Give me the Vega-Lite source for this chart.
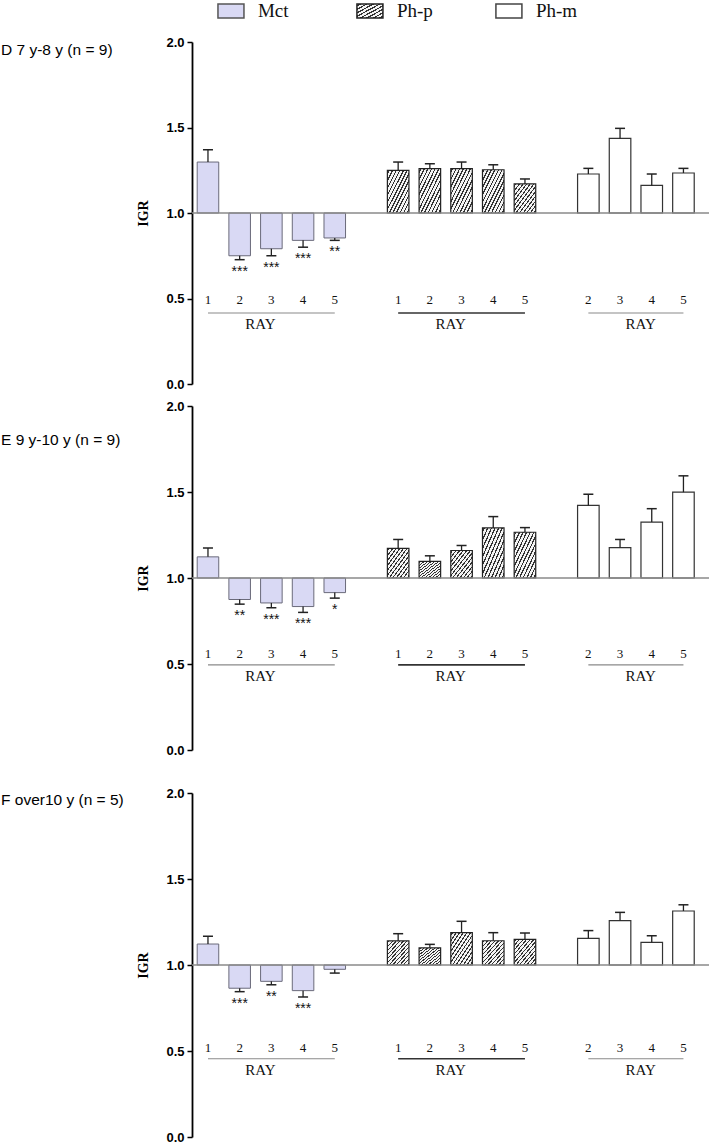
{
  "$schema": "https://vega.github.io/schema/vega-lite/v6.json",
  "padding": {"left": 1, "top": 0, "right": 0, "bottom": 0},
  "background": "white",
  "config": {
    "view": {"stroke": null},
    "font": "Liberation Sans",
    "axisY": {"domainColor": "#000", "domainWidth": 1.8, "tickColor": "#000", "tickWidth": 1.5, "tickSize": 5, "labelFont": "Liberation Sans", "labelFontWeight": "bold", "labelFontSize": 13, "labelColor": "#000", "labelPadding": 3, "titleFont": "Liberation Serif", "titleFontWeight": "bold", "titleFontSize": 14, "titleColor": "#000", "titlePadding": 15, "grid": false}
  },
  "datasets": {
    "legend": [{"group": "Mct"}, {"group": "Ph-p"}, {"group": "Ph-m"}],
    "groups": [
      {"group": "Mct", "first": "Mct 1", "last": "Mct 5", "mid": "Mct 3"},
      {"group": "Ph-p", "first": "Ph-p 1", "last": "Ph-p 5", "mid": "Ph-p 3"},
      {"group": "Ph-m", "first": "Ph-m 2", "last": "Ph-m 5", "mid": "Ph-m 4"}
    ],
    "bars": [
      {"panel": "D", "group": "Mct", "ray": 1, "key": "Mct 1", "igr": 1.298, "bar_end": 1.37, "sig": ""},
      {"panel": "D", "group": "Mct", "ray": 2, "key": "Mct 2", "igr": 0.75, "bar_end": 0.727, "sig": "***"},
      {"panel": "D", "group": "Mct", "ray": 3, "key": "Mct 3", "igr": 0.791, "bar_end": 0.75, "sig": "***"},
      {"panel": "D", "group": "Mct", "ray": 4, "key": "Mct 4", "igr": 0.84, "bar_end": 0.8, "sig": "***"},
      {"panel": "D", "group": "Mct", "ray": 5, "key": "Mct 5", "igr": 0.854, "bar_end": 0.84, "sig": "**"},
      {"panel": "D", "group": "Ph-p", "ray": 1, "key": "Ph-p 1", "igr": 1.249, "bar_end": 1.298, "sig": ""},
      {"panel": "D", "group": "Ph-p", "ray": 2, "key": "Ph-p 2", "igr": 1.259, "bar_end": 1.288, "sig": ""},
      {"panel": "D", "group": "Ph-p", "ray": 3, "key": "Ph-p 3", "igr": 1.259, "bar_end": 1.298, "sig": ""},
      {"panel": "D", "group": "Ph-p", "ray": 4, "key": "Ph-p 4", "igr": 1.253, "bar_end": 1.282, "sig": ""},
      {"panel": "D", "group": "Ph-p", "ray": 5, "key": "Ph-p 5", "igr": 1.17, "bar_end": 1.199, "sig": ""},
      {"panel": "D", "group": "Ph-m", "ray": 2, "key": "Ph-m 2", "igr": 1.228, "bar_end": 1.261, "sig": ""},
      {"panel": "D", "group": "Ph-m", "ray": 3, "key": "Ph-m 3", "igr": 1.436, "bar_end": 1.495, "sig": ""},
      {"panel": "D", "group": "Ph-m", "ray": 4, "key": "Ph-m 4", "igr": 1.161, "bar_end": 1.228, "sig": ""},
      {"panel": "D", "group": "Ph-m", "ray": 5, "key": "Ph-m 5", "igr": 1.234, "bar_end": 1.261, "sig": ""},
      {"panel": "E", "group": "Mct", "ray": 1, "key": "Mct 1", "igr": 1.123, "bar_end": 1.175, "sig": ""},
      {"panel": "E", "group": "Mct", "ray": 2, "key": "Mct 2", "igr": 0.875, "bar_end": 0.848, "sig": "**"},
      {"panel": "E", "group": "Mct", "ray": 3, "key": "Mct 3", "igr": 0.855, "bar_end": 0.827, "sig": "***"},
      {"panel": "E", "group": "Mct", "ray": 4, "key": "Mct 4", "igr": 0.834, "bar_end": 0.8, "sig": "***"},
      {"panel": "E", "group": "Mct", "ray": 5, "key": "Mct 5", "igr": 0.915, "bar_end": 0.883, "sig": "*"},
      {"panel": "E", "group": "Ph-p", "ray": 1, "key": "Ph-p 1", "igr": 1.172, "bar_end": 1.224, "sig": ""},
      {"panel": "E", "group": "Ph-p", "ray": 2, "key": "Ph-p 2", "igr": 1.097, "bar_end": 1.129, "sig": ""},
      {"panel": "E", "group": "Ph-p", "ray": 3, "key": "Ph-p 3", "igr": 1.16, "bar_end": 1.189, "sig": ""},
      {"panel": "E", "group": "Ph-p", "ray": 4, "key": "Ph-p 4", "igr": 1.291, "bar_end": 1.357, "sig": ""},
      {"panel": "E", "group": "Ph-p", "ray": 5, "key": "Ph-p 5", "igr": 1.266, "bar_end": 1.293, "sig": ""},
      {"panel": "E", "group": "Ph-m", "ray": 2, "key": "Ph-m 2", "igr": 1.422, "bar_end": 1.487, "sig": ""},
      {"panel": "E", "group": "Ph-m", "ray": 3, "key": "Ph-m 3", "igr": 1.177, "bar_end": 1.224, "sig": ""},
      {"panel": "E", "group": "Ph-m", "ray": 4, "key": "Ph-m 4", "igr": 1.325, "bar_end": 1.403, "sig": ""},
      {"panel": "E", "group": "Ph-m", "ray": 5, "key": "Ph-m 5", "igr": 1.499, "bar_end": 1.594, "sig": ""},
      {"panel": "F", "group": "Mct", "ray": 1, "key": "Mct 1", "igr": 1.122, "bar_end": 1.167, "sig": ""},
      {"panel": "F", "group": "Mct", "ray": 2, "key": "Mct 2", "igr": 0.865, "bar_end": 0.845, "sig": "***"},
      {"panel": "F", "group": "Mct", "ray": 3, "key": "Mct 3", "igr": 0.905, "bar_end": 0.885, "sig": "**"},
      {"panel": "F", "group": "Mct", "ray": 4, "key": "Mct 4", "igr": 0.851, "bar_end": 0.814, "sig": "***"},
      {"panel": "F", "group": "Mct", "ray": 5, "key": "Mct 5", "igr": 0.975, "bar_end": 0.953, "sig": ""},
      {"panel": "F", "group": "Ph-p", "ray": 1, "key": "Ph-p 1", "igr": 1.14, "bar_end": 1.182, "sig": ""},
      {"panel": "F", "group": "Ph-p", "ray": 2, "key": "Ph-p 2", "igr": 1.1, "bar_end": 1.12, "sig": ""},
      {"panel": "F", "group": "Ph-p", "ray": 3, "key": "Ph-p 3", "igr": 1.188, "bar_end": 1.254, "sig": ""},
      {"panel": "F", "group": "Ph-p", "ray": 4, "key": "Ph-p 4", "igr": 1.141, "bar_end": 1.188, "sig": ""},
      {"panel": "F", "group": "Ph-p", "ray": 5, "key": "Ph-p 5", "igr": 1.149, "bar_end": 1.186, "sig": ""},
      {"panel": "F", "group": "Ph-m", "ray": 2, "key": "Ph-m 2", "igr": 1.155, "bar_end": 1.2, "sig": ""},
      {"panel": "F", "group": "Ph-m", "ray": 3, "key": "Ph-m 3", "igr": 1.258, "bar_end": 1.306, "sig": ""},
      {"panel": "F", "group": "Ph-m", "ray": 4, "key": "Ph-m 4", "igr": 1.132, "bar_end": 1.17, "sig": ""},
      {"panel": "F", "group": "Ph-m", "ray": 5, "key": "Ph-m 5", "igr": 1.314, "bar_end": 1.35, "sig": ""}
    ]
  },
  "spacing": 30,
  "vconcat": [
    {
      "spacing": 14,
      "vconcat": [
        {
          "width": 517,
          "height": 14,
          "data": {"name": "legend"},
          "encoding": {"x": {"field": "group", "type": "nominal", "scale": {"type": "point", "domain": ["Mct", "Ph-p", "Ph-m"], "padding": 0.86, "align": 0.163}, "axis": null}},
          "layer": [
            {"transform": [{"filter": "datum.group === 'Mct'"}], "mark": {"type": "point", "shape": "M-1,-0.54L1,-0.54L1,0.54L-1,0.54Z", "size": 676, "filled": true, "fill": "#d9d9f4", "stroke": "#555", "strokeWidth": 1.5, "opacity": 1}},
            {"transform": [{"filter": "datum.group === 'Ph-p'"}], "mark": {"type": "point", "shape": "M-1,-0.54L1,-0.54L1,0.54L-1,0.54Z", "size": 676, "filled": true, "stroke": "#222", "strokeWidth": 1.5, "opacity": 1,
              "fill": {"gradient": "linear", "x1": 0, "y1": 0, "x2": 1, "y2": 1, "stops": [
                {"offset": 0, "color": "#f4f4f4"},
                {"offset": 0.04, "color": "#f4f4f4"}, {"offset": 0.04, "color": "#333"}, {"offset": 0.09, "color": "#333"}, {"offset": 0.09, "color": "#f4f4f4"},
                {"offset": 0.165, "color": "#f4f4f4"}, {"offset": 0.165, "color": "#333"}, {"offset": 0.215, "color": "#333"}, {"offset": 0.215, "color": "#f4f4f4"},
                {"offset": 0.29, "color": "#f4f4f4"}, {"offset": 0.29, "color": "#333"}, {"offset": 0.34, "color": "#333"}, {"offset": 0.34, "color": "#f4f4f4"},
                {"offset": 0.415, "color": "#f4f4f4"}, {"offset": 0.415, "color": "#333"}, {"offset": 0.465, "color": "#333"}, {"offset": 0.465, "color": "#f4f4f4"},
                {"offset": 0.54, "color": "#f4f4f4"}, {"offset": 0.54, "color": "#333"}, {"offset": 0.59, "color": "#333"}, {"offset": 0.59, "color": "#f4f4f4"},
                {"offset": 0.665, "color": "#f4f4f4"}, {"offset": 0.665, "color": "#333"}, {"offset": 0.715, "color": "#333"}, {"offset": 0.715, "color": "#f4f4f4"},
                {"offset": 0.79, "color": "#f4f4f4"}, {"offset": 0.79, "color": "#333"}, {"offset": 0.84, "color": "#333"}, {"offset": 0.84, "color": "#f4f4f4"},
                {"offset": 0.915, "color": "#f4f4f4"}, {"offset": 0.915, "color": "#333"}, {"offset": 0.965, "color": "#333"}, {"offset": 0.965, "color": "#f4f4f4"},
                {"offset": 1, "color": "#f4f4f4"}]}}},
            {"transform": [{"filter": "datum.group === 'Ph-m'"}], "mark": {"type": "point", "shape": "M-1,-0.54L1,-0.54L1,0.54L-1,0.54Z", "size": 676, "filled": true, "fill": "#fff", "stroke": "#444", "strokeWidth": 1.5, "opacity": 1}},
            {"mark": {"type": "text", "align": "left", "baseline": "middle", "dx": 27, "font": "Liberation Serif", "fontSize": 19, "color": "#111"}, "encoding": {"text": {"field": "group"}}}
          ]
        },
        {
          "spacing": 9,
          "vconcat": [
            {
              "width": 517,
              "height": 342,
              "title": {"text": "D 7 y-8 y (n = 9)", "anchor": "start", "frame": "group", "orient": "top", "dx": -191, "dy": 22, "offset": 0, "baseline": "top", "fontSize": 15.5, "fontWeight": "normal", "font": "Liberation Sans", "color": "#000"},
              "data": {"name": "bars"},
              "layer": [
                {"transform": [{"filter": "datum.panel === 'D' && datum.group === 'Mct'"}], "mark": {"type": "bar", "fill": "#d9d9f4", "stroke": "#6a6a7a", "strokeWidth": 1},
                 "encoding": {"x": {"field": "key", "type": "ordinal", "scale": {"domain": ["Mct 1", "Mct 2", "Mct 3", "Mct 4", "Mct 5", "gap1", "Ph-p 1", "Ph-p 2", "Ph-p 3", "Ph-p 4", "Ph-p 5", "gap2", "Ph-m 2", "Ph-m 3", "Ph-m 4", "Ph-m 5"], "paddingInner": 0.32, "paddingOuter": 0.315, "align": 0.26}, "axis": null},
                   "y": {"field": "igr", "type": "quantitative", "scale": {"domain": [0, 2]}, "title": "IGR", "axis": {"values": [0, 0.5, 1, 1.5, 2], "format": ".1f"}}, "y2": {"datum": 1}}},
                {"transform": [{"filter": "datum.panel === 'D' && datum.group === 'Ph-p'"}], "mark": {"type": "bar", "stroke": "#222", "strokeWidth": 1.2,
                  "fill": {"gradient": "linear", "x1": 0, "y1": 0, "x2": 1, "y2": 1, "stops": [
                    {"offset": 0, "color": "#f4f4f4"},
                    {"offset": 0.025, "color": "#f4f4f4"}, {"offset": 0.025, "color": "#333"}, {"offset": 0.055, "color": "#333"}, {"offset": 0.055, "color": "#f4f4f4"},
                    {"offset": 0.108, "color": "#f4f4f4"}, {"offset": 0.108, "color": "#333"}, {"offset": 0.138, "color": "#333"}, {"offset": 0.138, "color": "#f4f4f4"},
                    {"offset": 0.192, "color": "#f4f4f4"}, {"offset": 0.192, "color": "#333"}, {"offset": 0.222, "color": "#333"}, {"offset": 0.222, "color": "#f4f4f4"},
                    {"offset": 0.275, "color": "#f4f4f4"}, {"offset": 0.275, "color": "#333"}, {"offset": 0.305, "color": "#333"}, {"offset": 0.305, "color": "#f4f4f4"},
                    {"offset": 0.358, "color": "#f4f4f4"}, {"offset": 0.358, "color": "#333"}, {"offset": 0.388, "color": "#333"}, {"offset": 0.388, "color": "#f4f4f4"},
                    {"offset": 0.442, "color": "#f4f4f4"}, {"offset": 0.442, "color": "#333"}, {"offset": 0.472, "color": "#333"}, {"offset": 0.472, "color": "#f4f4f4"},
                    {"offset": 0.525, "color": "#f4f4f4"}, {"offset": 0.525, "color": "#333"}, {"offset": 0.555, "color": "#333"}, {"offset": 0.555, "color": "#f4f4f4"},
                    {"offset": 0.608, "color": "#f4f4f4"}, {"offset": 0.608, "color": "#333"}, {"offset": 0.638, "color": "#333"}, {"offset": 0.638, "color": "#f4f4f4"},
                    {"offset": 0.692, "color": "#f4f4f4"}, {"offset": 0.692, "color": "#333"}, {"offset": 0.722, "color": "#333"}, {"offset": 0.722, "color": "#f4f4f4"},
                    {"offset": 0.775, "color": "#f4f4f4"}, {"offset": 0.775, "color": "#333"}, {"offset": 0.805, "color": "#333"}, {"offset": 0.805, "color": "#f4f4f4"},
                    {"offset": 0.858, "color": "#f4f4f4"}, {"offset": 0.858, "color": "#333"}, {"offset": 0.888, "color": "#333"}, {"offset": 0.888, "color": "#f4f4f4"},
                    {"offset": 0.942, "color": "#f4f4f4"}, {"offset": 0.942, "color": "#333"}, {"offset": 0.972, "color": "#333"}, {"offset": 0.972, "color": "#f4f4f4"},
                    {"offset": 1, "color": "#f4f4f4"}]}},
                 "encoding": {"x": {"field": "key", "type": "ordinal", "scale": {"domain": ["Mct 1", "Mct 2", "Mct 3", "Mct 4", "Mct 5", "gap1", "Ph-p 1", "Ph-p 2", "Ph-p 3", "Ph-p 4", "Ph-p 5", "gap2", "Ph-m 2", "Ph-m 3", "Ph-m 4", "Ph-m 5"], "paddingInner": 0.32, "paddingOuter": 0.315, "align": 0.26}, "axis": null},
                   "y": {"field": "igr", "type": "quantitative", "scale": {"domain": [0, 2]}, "title": "IGR"}, "y2": {"datum": 1}}},
                {"transform": [{"filter": "datum.panel === 'D' && datum.group === 'Ph-m'"}], "mark": {"type": "bar", "fill": "#fff", "stroke": "#333", "strokeWidth": 1.2},
                 "encoding": {"x": {"field": "key", "type": "ordinal", "scale": {"domain": ["Mct 1", "Mct 2", "Mct 3", "Mct 4", "Mct 5", "gap1", "Ph-p 1", "Ph-p 2", "Ph-p 3", "Ph-p 4", "Ph-p 5", "gap2", "Ph-m 2", "Ph-m 3", "Ph-m 4", "Ph-m 5"], "paddingInner": 0.32, "paddingOuter": 0.315, "align": 0.26}, "axis": null},
                   "y": {"field": "igr", "type": "quantitative", "scale": {"domain": [0, 2]}, "title": "IGR"}, "y2": {"datum": 1}}},
                {"data": {"values": [{"baseline": 1}]}, "mark": {"type": "rule", "color": "#8a8a8a", "strokeWidth": 1.3},
                 "encoding": {"y": {"field": "baseline", "type": "quantitative", "scale": {"domain": [0, 2]}, "title": "IGR"}}},
                {"transform": [{"filter": "datum.panel === 'D'"}], "mark": {"type": "rule", "color": "#222", "strokeWidth": 1.3},
                 "encoding": {"x": {"field": "key", "type": "ordinal", "scale": {"domain": ["Mct 1", "Mct 2", "Mct 3", "Mct 4", "Mct 5", "gap1", "Ph-p 1", "Ph-p 2", "Ph-p 3", "Ph-p 4", "Ph-p 5", "gap2", "Ph-m 2", "Ph-m 3", "Ph-m 4", "Ph-m 5"], "paddingInner": 0.32, "paddingOuter": 0.315, "align": 0.26}, "axis": null},
                   "y": {"field": "igr", "type": "quantitative", "scale": {"domain": [0, 2]}, "title": "IGR"}, "y2": {"field": "bar_end"}}},
                {"transform": [{"filter": "datum.panel === 'D'"}], "mark": {"type": "tick", "color": "#222", "size": 10, "thickness": 1.5, "opacity": 1},
                 "encoding": {"x": {"field": "key", "type": "ordinal", "scale": {"domain": ["Mct 1", "Mct 2", "Mct 3", "Mct 4", "Mct 5", "gap1", "Ph-p 1", "Ph-p 2", "Ph-p 3", "Ph-p 4", "Ph-p 5", "gap2", "Ph-m 2", "Ph-m 3", "Ph-m 4", "Ph-m 5"], "paddingInner": 0.32, "paddingOuter": 0.315, "align": 0.26}, "axis": null},
                   "y": {"field": "bar_end", "type": "quantitative", "scale": {"domain": [0, 2]}, "title": "IGR"}}},
                {"transform": [{"filter": "datum.panel === 'D'"}], "mark": {"type": "text", "baseline": "top", "dy": 5, "fontSize": 14, "font": "Liberation Sans", "color": "#111"},
                 "encoding": {"x": {"field": "key", "type": "ordinal", "scale": {"domain": ["Mct 1", "Mct 2", "Mct 3", "Mct 4", "Mct 5", "gap1", "Ph-p 1", "Ph-p 2", "Ph-p 3", "Ph-p 4", "Ph-p 5", "gap2", "Ph-m 2", "Ph-m 3", "Ph-m 4", "Ph-m 5"], "paddingInner": 0.32, "paddingOuter": 0.315, "align": 0.26}, "axis": null},
                   "y": {"field": "bar_end", "type": "quantitative", "scale": {"domain": [0, 2]}, "title": "IGR"}, "text": {"field": "sig"}}},
                {"transform": [{"filter": "datum.panel === 'D'"}], "mark": {"type": "text", "baseline": "middle", "fontSize": 13, "font": "Liberation Serif", "color": "#111"},
                 "encoding": {"x": {"field": "key", "type": "ordinal", "scale": {"domain": ["Mct 1", "Mct 2", "Mct 3", "Mct 4", "Mct 5", "gap1", "Ph-p 1", "Ph-p 2", "Ph-p 3", "Ph-p 4", "Ph-p 5", "gap2", "Ph-m 2", "Ph-m 3", "Ph-m 4", "Ph-m 5"], "paddingInner": 0.32, "paddingOuter": 0.315, "align": 0.26}, "axis": null},
                   "y": {"datum": 0.49, "type": "quantitative", "scale": {"domain": [0, 2]}}, "text": {"field": "ray", "type": "nominal"}}},
                {"data": {"name": "groups"}, "mark": {"type": "rule"},
                 "encoding": {"x": {"field": "first", "type": "ordinal", "scale": {"domain": ["Mct 1", "Mct 2", "Mct 3", "Mct 4", "Mct 5", "gap1", "Ph-p 1", "Ph-p 2", "Ph-p 3", "Ph-p 4", "Ph-p 5", "gap2", "Ph-m 2", "Ph-m 3", "Ph-m 4", "Ph-m 5"], "paddingInner": 0.32, "paddingOuter": 0.315, "align": 0.26}, "axis": null},
                   "x2": {"field": "last"},
                   "y": {"datum": 0.415, "type": "quantitative", "scale": {"domain": [0, 2]}},
                   "color": {"condition": {"test": "datum.group === 'Ph-p'", "value": "#333"}, "value": "#8a8a8a"},
                   "strokeWidth": {"condition": {"test": "datum.group === 'Ph-p'", "value": 1.6}, "value": 1.1}}},
                {"data": {"name": "groups"}, "mark": {"type": "text", "baseline": "middle", "dx": -11, "fontSize": 15, "font": "Liberation Serif", "color": "#111", "text": "RAY"},
                 "encoding": {"x": {"field": "mid", "type": "ordinal", "scale": {"domain": ["Mct 1", "Mct 2", "Mct 3", "Mct 4", "Mct 5", "gap1", "Ph-p 1", "Ph-p 2", "Ph-p 3", "Ph-p 4", "Ph-p 5", "gap2", "Ph-m 2", "Ph-m 3", "Ph-m 4", "Ph-m 5"], "paddingInner": 0.32, "paddingOuter": 0.315, "align": 0.26}, "axis": null},
                   "y": {"datum": 0.35, "type": "quantitative", "scale": {"domain": [0, 2]}}}}
              ]
            },
            {
              "width": 517,
              "height": 344,
              "title": {"text": "E 9 y-10 y (n = 9)", "anchor": "start", "frame": "group", "orient": "top", "dx": -191, "dy": 48, "offset": 0, "baseline": "top", "fontSize": 15.5, "fontWeight": "normal", "font": "Liberation Sans", "color": "#000"},
              "data": {"name": "bars"},
              "layer": [
                {"transform": [{"filter": "datum.panel === 'E' && datum.group === 'Mct'"}], "mark": {"type": "bar", "fill": "#d9d9f4", "stroke": "#6a6a7a", "strokeWidth": 1},
                 "encoding": {"x": {"field": "key", "type": "ordinal", "scale": {"domain": ["Mct 1", "Mct 2", "Mct 3", "Mct 4", "Mct 5", "gap1", "Ph-p 1", "Ph-p 2", "Ph-p 3", "Ph-p 4", "Ph-p 5", "gap2", "Ph-m 2", "Ph-m 3", "Ph-m 4", "Ph-m 5"], "paddingInner": 0.32, "paddingOuter": 0.315, "align": 0.26}, "axis": null},
                   "y": {"field": "igr", "type": "quantitative", "scale": {"domain": [0, 2]}, "title": "IGR", "axis": {"values": [0, 0.5, 1, 1.5, 2], "format": ".1f"}}, "y2": {"datum": 1}}},
                {"transform": [{"filter": "datum.panel === 'E' && datum.group === 'Ph-p'"}], "mark": {"type": "bar", "stroke": "#222", "strokeWidth": 1.2,
                  "fill": {"gradient": "linear", "x1": 0, "y1": 0, "x2": 1, "y2": 1, "stops": [
                    {"offset": 0, "color": "#f4f4f4"},
                    {"offset": 0.025, "color": "#f4f4f4"}, {"offset": 0.025, "color": "#333"}, {"offset": 0.055, "color": "#333"}, {"offset": 0.055, "color": "#f4f4f4"},
                    {"offset": 0.108, "color": "#f4f4f4"}, {"offset": 0.108, "color": "#333"}, {"offset": 0.138, "color": "#333"}, {"offset": 0.138, "color": "#f4f4f4"},
                    {"offset": 0.192, "color": "#f4f4f4"}, {"offset": 0.192, "color": "#333"}, {"offset": 0.222, "color": "#333"}, {"offset": 0.222, "color": "#f4f4f4"},
                    {"offset": 0.275, "color": "#f4f4f4"}, {"offset": 0.275, "color": "#333"}, {"offset": 0.305, "color": "#333"}, {"offset": 0.305, "color": "#f4f4f4"},
                    {"offset": 0.358, "color": "#f4f4f4"}, {"offset": 0.358, "color": "#333"}, {"offset": 0.388, "color": "#333"}, {"offset": 0.388, "color": "#f4f4f4"},
                    {"offset": 0.442, "color": "#f4f4f4"}, {"offset": 0.442, "color": "#333"}, {"offset": 0.472, "color": "#333"}, {"offset": 0.472, "color": "#f4f4f4"},
                    {"offset": 0.525, "color": "#f4f4f4"}, {"offset": 0.525, "color": "#333"}, {"offset": 0.555, "color": "#333"}, {"offset": 0.555, "color": "#f4f4f4"},
                    {"offset": 0.608, "color": "#f4f4f4"}, {"offset": 0.608, "color": "#333"}, {"offset": 0.638, "color": "#333"}, {"offset": 0.638, "color": "#f4f4f4"},
                    {"offset": 0.692, "color": "#f4f4f4"}, {"offset": 0.692, "color": "#333"}, {"offset": 0.722, "color": "#333"}, {"offset": 0.722, "color": "#f4f4f4"},
                    {"offset": 0.775, "color": "#f4f4f4"}, {"offset": 0.775, "color": "#333"}, {"offset": 0.805, "color": "#333"}, {"offset": 0.805, "color": "#f4f4f4"},
                    {"offset": 0.858, "color": "#f4f4f4"}, {"offset": 0.858, "color": "#333"}, {"offset": 0.888, "color": "#333"}, {"offset": 0.888, "color": "#f4f4f4"},
                    {"offset": 0.942, "color": "#f4f4f4"}, {"offset": 0.942, "color": "#333"}, {"offset": 0.972, "color": "#333"}, {"offset": 0.972, "color": "#f4f4f4"},
                    {"offset": 1, "color": "#f4f4f4"}]}},
                 "encoding": {"x": {"field": "key", "type": "ordinal", "scale": {"domain": ["Mct 1", "Mct 2", "Mct 3", "Mct 4", "Mct 5", "gap1", "Ph-p 1", "Ph-p 2", "Ph-p 3", "Ph-p 4", "Ph-p 5", "gap2", "Ph-m 2", "Ph-m 3", "Ph-m 4", "Ph-m 5"], "paddingInner": 0.32, "paddingOuter": 0.315, "align": 0.26}, "axis": null},
                   "y": {"field": "igr", "type": "quantitative", "scale": {"domain": [0, 2]}, "title": "IGR"}, "y2": {"datum": 1}}},
                {"transform": [{"filter": "datum.panel === 'E' && datum.group === 'Ph-m'"}], "mark": {"type": "bar", "fill": "#fff", "stroke": "#333", "strokeWidth": 1.2},
                 "encoding": {"x": {"field": "key", "type": "ordinal", "scale": {"domain": ["Mct 1", "Mct 2", "Mct 3", "Mct 4", "Mct 5", "gap1", "Ph-p 1", "Ph-p 2", "Ph-p 3", "Ph-p 4", "Ph-p 5", "gap2", "Ph-m 2", "Ph-m 3", "Ph-m 4", "Ph-m 5"], "paddingInner": 0.32, "paddingOuter": 0.315, "align": 0.26}, "axis": null},
                   "y": {"field": "igr", "type": "quantitative", "scale": {"domain": [0, 2]}, "title": "IGR"}, "y2": {"datum": 1}}},
                {"data": {"values": [{"baseline": 1}]}, "mark": {"type": "rule", "color": "#8a8a8a", "strokeWidth": 1.3},
                 "encoding": {"y": {"field": "baseline", "type": "quantitative", "scale": {"domain": [0, 2]}, "title": "IGR"}}},
                {"transform": [{"filter": "datum.panel === 'E'"}], "mark": {"type": "rule", "color": "#222", "strokeWidth": 1.3},
                 "encoding": {"x": {"field": "key", "type": "ordinal", "scale": {"domain": ["Mct 1", "Mct 2", "Mct 3", "Mct 4", "Mct 5", "gap1", "Ph-p 1", "Ph-p 2", "Ph-p 3", "Ph-p 4", "Ph-p 5", "gap2", "Ph-m 2", "Ph-m 3", "Ph-m 4", "Ph-m 5"], "paddingInner": 0.32, "paddingOuter": 0.315, "align": 0.26}, "axis": null},
                   "y": {"field": "igr", "type": "quantitative", "scale": {"domain": [0, 2]}, "title": "IGR"}, "y2": {"field": "bar_end"}}},
                {"transform": [{"filter": "datum.panel === 'E'"}], "mark": {"type": "tick", "color": "#222", "size": 10, "thickness": 1.5, "opacity": 1},
                 "encoding": {"x": {"field": "key", "type": "ordinal", "scale": {"domain": ["Mct 1", "Mct 2", "Mct 3", "Mct 4", "Mct 5", "gap1", "Ph-p 1", "Ph-p 2", "Ph-p 3", "Ph-p 4", "Ph-p 5", "gap2", "Ph-m 2", "Ph-m 3", "Ph-m 4", "Ph-m 5"], "paddingInner": 0.32, "paddingOuter": 0.315, "align": 0.26}, "axis": null},
                   "y": {"field": "bar_end", "type": "quantitative", "scale": {"domain": [0, 2]}, "title": "IGR"}}},
                {"transform": [{"filter": "datum.panel === 'E'"}], "mark": {"type": "text", "baseline": "top", "dy": 5, "fontSize": 14, "font": "Liberation Sans", "color": "#111"},
                 "encoding": {"x": {"field": "key", "type": "ordinal", "scale": {"domain": ["Mct 1", "Mct 2", "Mct 3", "Mct 4", "Mct 5", "gap1", "Ph-p 1", "Ph-p 2", "Ph-p 3", "Ph-p 4", "Ph-p 5", "gap2", "Ph-m 2", "Ph-m 3", "Ph-m 4", "Ph-m 5"], "paddingInner": 0.32, "paddingOuter": 0.315, "align": 0.26}, "axis": null},
                   "y": {"field": "bar_end", "type": "quantitative", "scale": {"domain": [0, 2]}, "title": "IGR"}, "text": {"field": "sig"}}},
                {"transform": [{"filter": "datum.panel === 'E'"}], "mark": {"type": "text", "baseline": "middle", "fontSize": 13, "font": "Liberation Serif", "color": "#111"},
                 "encoding": {"x": {"field": "key", "type": "ordinal", "scale": {"domain": ["Mct 1", "Mct 2", "Mct 3", "Mct 4", "Mct 5", "gap1", "Ph-p 1", "Ph-p 2", "Ph-p 3", "Ph-p 4", "Ph-p 5", "gap2", "Ph-m 2", "Ph-m 3", "Ph-m 4", "Ph-m 5"], "paddingInner": 0.32, "paddingOuter": 0.315, "align": 0.26}, "axis": null},
                   "y": {"datum": 0.56, "type": "quantitative", "scale": {"domain": [0, 2]}}, "text": {"field": "ray", "type": "nominal"}}},
                {"data": {"name": "groups"}, "mark": {"type": "rule"},
                 "encoding": {"x": {"field": "first", "type": "ordinal", "scale": {"domain": ["Mct 1", "Mct 2", "Mct 3", "Mct 4", "Mct 5", "gap1", "Ph-p 1", "Ph-p 2", "Ph-p 3", "Ph-p 4", "Ph-p 5", "gap2", "Ph-m 2", "Ph-m 3", "Ph-m 4", "Ph-m 5"], "paddingInner": 0.32, "paddingOuter": 0.315, "align": 0.26}, "axis": null},
                   "x2": {"field": "last"},
                   "y": {"datum": 0.495, "type": "quantitative", "scale": {"domain": [0, 2]}},
                   "color": {"condition": {"test": "datum.group === 'Ph-p'", "value": "#333"}, "value": "#8a8a8a"},
                   "strokeWidth": {"condition": {"test": "datum.group === 'Ph-p'", "value": 1.6}, "value": 1.1}}},
                {"data": {"name": "groups"}, "mark": {"type": "text", "baseline": "middle", "dx": -11, "fontSize": 15, "font": "Liberation Serif", "color": "#111", "text": "RAY"},
                 "encoding": {"x": {"field": "mid", "type": "ordinal", "scale": {"domain": ["Mct 1", "Mct 2", "Mct 3", "Mct 4", "Mct 5", "gap1", "Ph-p 1", "Ph-p 2", "Ph-p 3", "Ph-p 4", "Ph-p 5", "gap2", "Ph-m 2", "Ph-m 3", "Ph-m 4", "Ph-m 5"], "paddingInner": 0.32, "paddingOuter": 0.315, "align": 0.26}, "axis": null},
                   "y": {"datum": 0.43, "type": "quantitative", "scale": {"domain": [0, 2]}}}}
              ]
            }
          ]
        }
      ]
    },
    {
      "width": 517,
      "height": 344,
      "title": {"text": "F over10 y (n = 5)", "anchor": "start", "frame": "group", "orient": "top", "dx": -191, "dy": 21, "offset": 0, "baseline": "top", "fontSize": 15.5, "fontWeight": "normal", "font": "Liberation Sans", "color": "#000"},
      "data": {"name": "bars"},
      "layer": [
        {"transform": [{"filter": "datum.panel === 'F' && datum.group === 'Mct'"}], "mark": {"type": "bar", "fill": "#d9d9f4", "stroke": "#6a6a7a", "strokeWidth": 1},
         "encoding": {"x": {"field": "key", "type": "ordinal", "scale": {"domain": ["Mct 1", "Mct 2", "Mct 3", "Mct 4", "Mct 5", "gap1", "Ph-p 1", "Ph-p 2", "Ph-p 3", "Ph-p 4", "Ph-p 5", "gap2", "Ph-m 2", "Ph-m 3", "Ph-m 4", "Ph-m 5"], "paddingInner": 0.32, "paddingOuter": 0.315, "align": 0.26}, "axis": null},
           "y": {"field": "igr", "type": "quantitative", "scale": {"domain": [0, 2]}, "title": "IGR", "axis": {"values": [0, 0.5, 1, 1.5, 2], "format": ".1f"}}, "y2": {"datum": 1}}},
        {"transform": [{"filter": "datum.panel === 'F' && datum.group === 'Ph-p'"}], "mark": {"type": "bar", "stroke": "#222", "strokeWidth": 1.2,
          "fill": {"gradient": "linear", "x1": 0, "y1": 0, "x2": 1, "y2": 1, "stops": [
            {"offset": 0, "color": "#f4f4f4"},
            {"offset": 0.025, "color": "#f4f4f4"}, {"offset": 0.025, "color": "#333"}, {"offset": 0.055, "color": "#333"}, {"offset": 0.055, "color": "#f4f4f4"},
            {"offset": 0.108, "color": "#f4f4f4"}, {"offset": 0.108, "color": "#333"}, {"offset": 0.138, "color": "#333"}, {"offset": 0.138, "color": "#f4f4f4"},
            {"offset": 0.192, "color": "#f4f4f4"}, {"offset": 0.192, "color": "#333"}, {"offset": 0.222, "color": "#333"}, {"offset": 0.222, "color": "#f4f4f4"},
            {"offset": 0.275, "color": "#f4f4f4"}, {"offset": 0.275, "color": "#333"}, {"offset": 0.305, "color": "#333"}, {"offset": 0.305, "color": "#f4f4f4"},
            {"offset": 0.358, "color": "#f4f4f4"}, {"offset": 0.358, "color": "#333"}, {"offset": 0.388, "color": "#333"}, {"offset": 0.388, "color": "#f4f4f4"},
            {"offset": 0.442, "color": "#f4f4f4"}, {"offset": 0.442, "color": "#333"}, {"offset": 0.472, "color": "#333"}, {"offset": 0.472, "color": "#f4f4f4"},
            {"offset": 0.525, "color": "#f4f4f4"}, {"offset": 0.525, "color": "#333"}, {"offset": 0.555, "color": "#333"}, {"offset": 0.555, "color": "#f4f4f4"},
            {"offset": 0.608, "color": "#f4f4f4"}, {"offset": 0.608, "color": "#333"}, {"offset": 0.638, "color": "#333"}, {"offset": 0.638, "color": "#f4f4f4"},
            {"offset": 0.692, "color": "#f4f4f4"}, {"offset": 0.692, "color": "#333"}, {"offset": 0.722, "color": "#333"}, {"offset": 0.722, "color": "#f4f4f4"},
            {"offset": 0.775, "color": "#f4f4f4"}, {"offset": 0.775, "color": "#333"}, {"offset": 0.805, "color": "#333"}, {"offset": 0.805, "color": "#f4f4f4"},
            {"offset": 0.858, "color": "#f4f4f4"}, {"offset": 0.858, "color": "#333"}, {"offset": 0.888, "color": "#333"}, {"offset": 0.888, "color": "#f4f4f4"},
            {"offset": 0.942, "color": "#f4f4f4"}, {"offset": 0.942, "color": "#333"}, {"offset": 0.972, "color": "#333"}, {"offset": 0.972, "color": "#f4f4f4"},
            {"offset": 1, "color": "#f4f4f4"}]}},
         "encoding": {"x": {"field": "key", "type": "ordinal", "scale": {"domain": ["Mct 1", "Mct 2", "Mct 3", "Mct 4", "Mct 5", "gap1", "Ph-p 1", "Ph-p 2", "Ph-p 3", "Ph-p 4", "Ph-p 5", "gap2", "Ph-m 2", "Ph-m 3", "Ph-m 4", "Ph-m 5"], "paddingInner": 0.32, "paddingOuter": 0.315, "align": 0.26}, "axis": null},
           "y": {"field": "igr", "type": "quantitative", "scale": {"domain": [0, 2]}, "title": "IGR"}, "y2": {"datum": 1}}},
        {"transform": [{"filter": "datum.panel === 'F' && datum.group === 'Ph-m'"}], "mark": {"type": "bar", "fill": "#fff", "stroke": "#333", "strokeWidth": 1.2},
         "encoding": {"x": {"field": "key", "type": "ordinal", "scale": {"domain": ["Mct 1", "Mct 2", "Mct 3", "Mct 4", "Mct 5", "gap1", "Ph-p 1", "Ph-p 2", "Ph-p 3", "Ph-p 4", "Ph-p 5", "gap2", "Ph-m 2", "Ph-m 3", "Ph-m 4", "Ph-m 5"], "paddingInner": 0.32, "paddingOuter": 0.315, "align": 0.26}, "axis": null},
           "y": {"field": "igr", "type": "quantitative", "scale": {"domain": [0, 2]}, "title": "IGR"}, "y2": {"datum": 1}}},
        {"data": {"values": [{"baseline": 1}]}, "mark": {"type": "rule", "color": "#8a8a8a", "strokeWidth": 1.3},
         "encoding": {"y": {"field": "baseline", "type": "quantitative", "scale": {"domain": [0, 2]}, "title": "IGR"}}},
        {"transform": [{"filter": "datum.panel === 'F'"}], "mark": {"type": "rule", "color": "#222", "strokeWidth": 1.3},
         "encoding": {"x": {"field": "key", "type": "ordinal", "scale": {"domain": ["Mct 1", "Mct 2", "Mct 3", "Mct 4", "Mct 5", "gap1", "Ph-p 1", "Ph-p 2", "Ph-p 3", "Ph-p 4", "Ph-p 5", "gap2", "Ph-m 2", "Ph-m 3", "Ph-m 4", "Ph-m 5"], "paddingInner": 0.32, "paddingOuter": 0.315, "align": 0.26}, "axis": null},
           "y": {"field": "igr", "type": "quantitative", "scale": {"domain": [0, 2]}, "title": "IGR"}, "y2": {"field": "bar_end"}}},
        {"transform": [{"filter": "datum.panel === 'F'"}], "mark": {"type": "tick", "color": "#222", "size": 10, "thickness": 1.5, "opacity": 1},
         "encoding": {"x": {"field": "key", "type": "ordinal", "scale": {"domain": ["Mct 1", "Mct 2", "Mct 3", "Mct 4", "Mct 5", "gap1", "Ph-p 1", "Ph-p 2", "Ph-p 3", "Ph-p 4", "Ph-p 5", "gap2", "Ph-m 2", "Ph-m 3", "Ph-m 4", "Ph-m 5"], "paddingInner": 0.32, "paddingOuter": 0.315, "align": 0.26}, "axis": null},
           "y": {"field": "bar_end", "type": "quantitative", "scale": {"domain": [0, 2]}, "title": "IGR"}}},
        {"transform": [{"filter": "datum.panel === 'F'"}], "mark": {"type": "text", "baseline": "top", "dy": 5, "fontSize": 14, "font": "Liberation Sans", "color": "#111"},
         "encoding": {"x": {"field": "key", "type": "ordinal", "scale": {"domain": ["Mct 1", "Mct 2", "Mct 3", "Mct 4", "Mct 5", "gap1", "Ph-p 1", "Ph-p 2", "Ph-p 3", "Ph-p 4", "Ph-p 5", "gap2", "Ph-m 2", "Ph-m 3", "Ph-m 4", "Ph-m 5"], "paddingInner": 0.32, "paddingOuter": 0.315, "align": 0.26}, "axis": null},
           "y": {"field": "bar_end", "type": "quantitative", "scale": {"domain": [0, 2]}, "title": "IGR"}, "text": {"field": "sig"}}},
        {"transform": [{"filter": "datum.panel === 'F'"}], "mark": {"type": "text", "baseline": "middle", "fontSize": 13, "font": "Liberation Serif", "color": "#111"},
         "encoding": {"x": {"field": "key", "type": "ordinal", "scale": {"domain": ["Mct 1", "Mct 2", "Mct 3", "Mct 4", "Mct 5", "gap1", "Ph-p 1", "Ph-p 2", "Ph-p 3", "Ph-p 4", "Ph-p 5", "gap2", "Ph-m 2", "Ph-m 3", "Ph-m 4", "Ph-m 5"], "paddingInner": 0.32, "paddingOuter": 0.315, "align": 0.26}, "axis": null},
           "y": {"datum": 0.52, "type": "quantitative", "scale": {"domain": [0, 2]}}, "text": {"field": "ray", "type": "nominal"}}},
        {"data": {"name": "groups"}, "mark": {"type": "rule"},
         "encoding": {"x": {"field": "first", "type": "ordinal", "scale": {"domain": ["Mct 1", "Mct 2", "Mct 3", "Mct 4", "Mct 5", "gap1", "Ph-p 1", "Ph-p 2", "Ph-p 3", "Ph-p 4", "Ph-p 5", "gap2", "Ph-m 2", "Ph-m 3", "Ph-m 4", "Ph-m 5"], "paddingInner": 0.32, "paddingOuter": 0.315, "align": 0.26}, "axis": null},
           "x2": {"field": "last"},
           "y": {"datum": 0.455, "type": "quantitative", "scale": {"domain": [0, 2]}},
           "color": {"condition": {"test": "datum.group === 'Ph-p'", "value": "#333"}, "value": "#8a8a8a"},
           "strokeWidth": {"condition": {"test": "datum.group === 'Ph-p'", "value": 1.6}, "value": 1.1}}},
        {"data": {"name": "groups"}, "mark": {"type": "text", "baseline": "middle", "dx": -11, "fontSize": 15, "font": "Liberation Serif", "color": "#111", "text": "RAY"},
         "encoding": {"x": {"field": "mid", "type": "ordinal", "scale": {"domain": ["Mct 1", "Mct 2", "Mct 3", "Mct 4", "Mct 5", "gap1", "Ph-p 1", "Ph-p 2", "Ph-p 3", "Ph-p 4", "Ph-p 5", "gap2", "Ph-m 2", "Ph-m 3", "Ph-m 4", "Ph-m 5"], "paddingInner": 0.32, "paddingOuter": 0.315, "align": 0.26}, "axis": null},
           "y": {"datum": 0.39, "type": "quantitative", "scale": {"domain": [0, 2]}}}}
      ]
    }
  ]
}
